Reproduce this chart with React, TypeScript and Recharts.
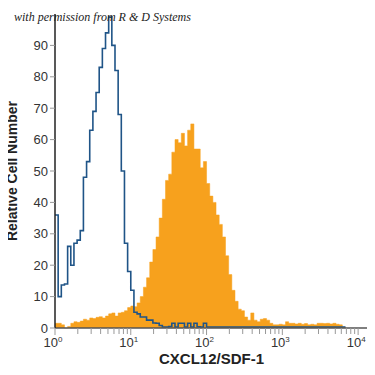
import React from 'react';
import { ComposedChart, Area, Line, XAxis, YAxis } from 'recharts';

// histogram channels, 24 per decade starting at 10^0
const channelsPerDecade = 24;

const stained = [
  1.5, 1.5, 1, 0, 0.5, 1.5, 2, 1.8, 2.2, 2.8, 2.5, 3.2, 3, 3.4, 3.6, 3.2,
  3.8, 4.5, 4.8, 3.8, 4.8, 5, 5.5, 6.5, 7, 6.8, 8, 10, 13, 16, 21, 25,
  29, 35, 41, 47, 49, 56, 60, 59, 62, 58, 63, 65, 57, 57, 51, 53,
  46, 42, 40, 36, 33, 29, 23, 17, 12, 8.5, 6, 5.5, 3.5, 2.5, 4.8, 2.5,
  2, 2.8, 3, 2.5, 1.5, 1, 1, 1.2, 1, 2, 1.5, 1.5, 1.3, 1.5, 1.2, 1.4,
  1, 1.2, 1, 1.5, 1.5, 1.4, 1.5, 1.3, 1.5, 1.2, 1, 0.3, 0.2,
];

const control = [
  36, 10, 13.7, 14, 26, 20, 27, 28, 31, 48, 53, 63, 69, 75, 83, 89,
  94, 99, 90, 82, 68, 50, 27, 18, 12, 5, 4.5, 3.5, 3.5, 2.5, 2.5, 1.6,
  1.5, 0.8, 0.3, 0.3, 0.5, 1.5, 0.3, 1.5, 1.5, 0.3, 1.5, 0.3, 1.5, 0.4, 0.3, 1.5,
  0.3, 0.3, 0.3, 0.3, 0.3, 0.3, 0.3, 0.3, 0.3, 0.3, 0.3, 0.3, 0.3, 0.3, 0.3, 0.3,
  0.3, 0.3, 0.3, 0.3, 0.3, 0.3, 0.3, 0.3, 0.3, 0.3, 0.3, 0.3, 0.3, 0.3, 0.3, 0.3,
  0.3, 0.3, 0.3, 0.3, 0.3, 0.3, 0.3, 0.3, 0.3, 0.3, 0.3, 0.3, 0.3,
];

const xTicks = [
  1, 2, 3, 4, 5, 6, 7, 8, 9,
  10, 20, 30, 40, 50, 60, 70, 80, 90,
  100, 200, 300, 400, 500, 600, 700, 800, 900,
  1000, 2000, 3000, 4000, 5000, 6000, 7000, 8000, 9000,
  10000,
];
const yTicks = [0, 10, 20, 30, 40, 50, 60, 70, 80, 90];

const data = stained.map((v, i) => ({
  x: Math.pow(10, i / channelsPerDecade),
  stained: v,
  control: control[i],
}));

const font = '"Liberation Sans Narrow", "Liberation Sans", sans-serif';

const XTick = (props: any) => {
  const { x, y, payload } = props;
  const exp = Math.log10(payload.value);
  const major = Math.abs(exp - Math.round(exp)) < 1e-6;
  return (
    <g>
      <line x1={x} y1={y - 8} x2={x} y2={y - (major ? 1 : 2)} stroke="#999" strokeWidth={1} />
      {major && (
        <text x={x - 2} y={y + 11} textAnchor="middle" fontFamily={font} fontSize={13} fill="#333">
          10
          <tspan dy={-5} fontSize={8}>{Math.round(exp)}</tspan>
        </text>
      )}
    </g>
  );
};

export default function App() {
  return (
    <div style={{ position: 'relative', width: 375, height: 375, margin: -8 }}>
      <div
        style={{
          position: 'absolute',
          left: 14,
          top: 10,
          fontFamily: '"Liberation Serif", serif',
          fontStyle: 'italic',
          fontSize: 12,
          color: '#222',
          zIndex: 2,
          whiteSpace: 'nowrap',
        }}
      >
        with permission from R &amp; D Systems
      </div>
      <ComposedChart width={375} height={375} data={data} margin={{ top: 14, right: 7, left: 0, bottom: 0 }}>
        <XAxis
          dataKey="x"
          type="number"
          scale="log"
          domain={[1, 13500]}
          ticks={xTicks}
          interval={0}
          tick={<XTick />}
          tickLine={false}
          axisLine={{ stroke: '#555', strokeWidth: 1.5 }}
          height={47}
          label={{
            value: 'CXCL12/SDF-1',
            position: 'insideBottom',
            offset: 11,
            fontFamily: font,
            fontWeight: 'bold',
            fontSize: 15,
            fill: '#222',
          }}
        />
        <YAxis
          type="number"
          domain={[0, 100]}
          ticks={yTicks}
          interval={0}
          width={55}
          tickSize={5}
          tickLine={{ stroke: '#999' }}
          axisLine={{ stroke: '#222', strokeWidth: 1.5 }}
          tick={{ fontFamily: font, fontSize: 13, fill: '#333' }}
          label={{
            value: 'Relative Cell Number',
            angle: -90,
            position: 'insideLeft',
            offset: 12,
            style: { textAnchor: 'middle' },
            fontFamily: font,
            fontWeight: 'bold',
            fontSize: 14,
            fill: '#222',
          }}
        />
        <Area
          dataKey="stained"
          type="stepAfter"
          fill="#F7A11D"
          fillOpacity={1}
          stroke="#F7A11D"
          strokeWidth={0.5}
          isAnimationActive={false}
        />
        <Line
          dataKey="control"
          type="stepAfter"
          stroke="#1F5487"
          strokeWidth={1.6}
          dot={false}
          isAnimationActive={false}
        />
      </ComposedChart>
    </div>
  );
}
